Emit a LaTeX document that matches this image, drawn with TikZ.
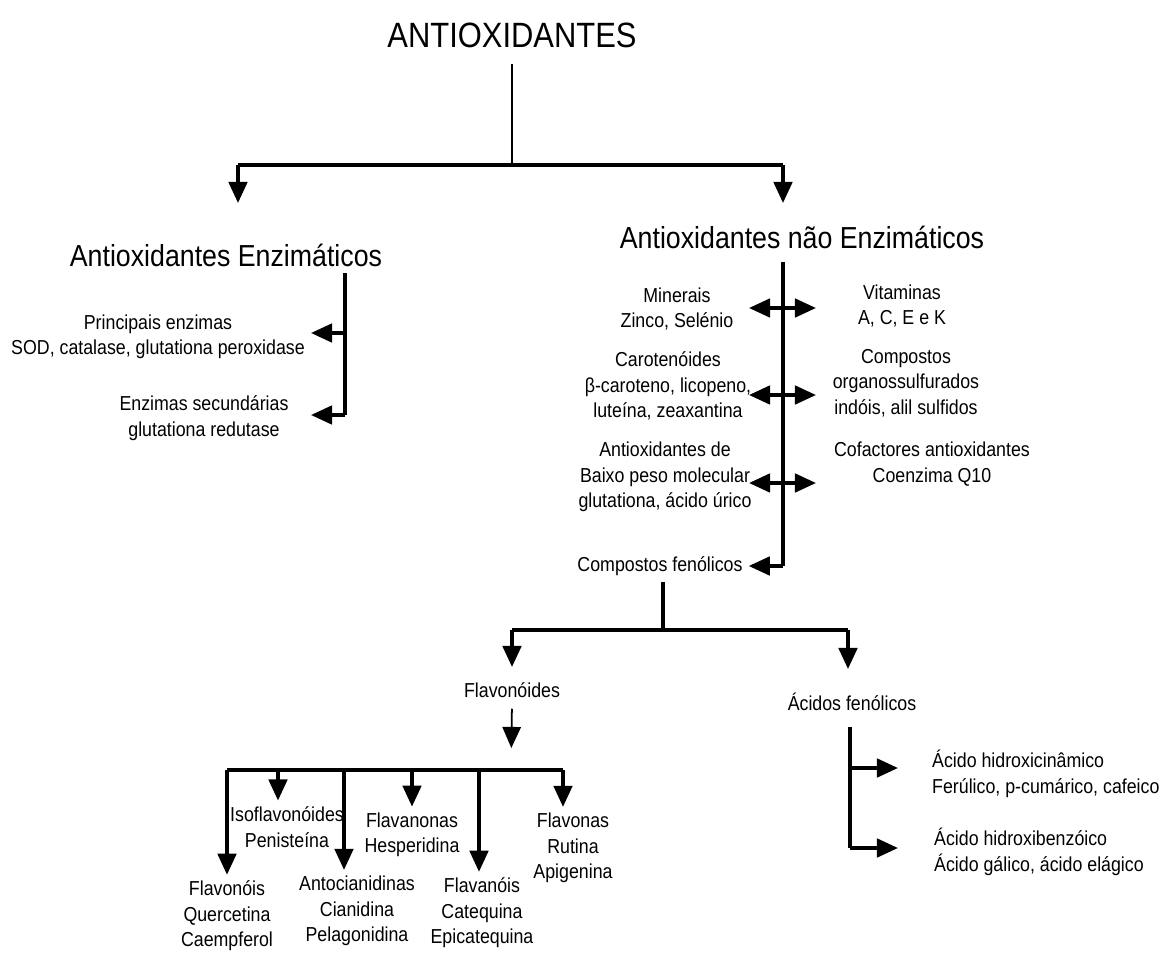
\documentclass[tikz,border=0pt]{standalone}
\usepackage{fontspec}
\setmainfont{Liberation Sans}[FakeStretch=0.88]
\usetikzlibrary{arrows.meta,positioning,calc}

\begin{document}
\begin{tikzpicture}[x=0.02cm, y=-0.02cm,
        lbl/.style={align=center, font=\fontsize{11.5}{14.5}\selectfont},
        head/.style={align=center, font=\fontsize{17.3}{20}\selectfont},
        bar/.style={line width=2pt},
        stem/.style={line width=1.1pt},
        arrow/.style={-{Triangle[length=12pt,width=10.5pt]}, line width=2pt},
        dblarrow/.style={{Triangle[length=12pt,width=10.5pt]}-{Triangle[length=12pt,width=10.5pt]}, line width=2pt},
        thinarrow/.style={arrow, line width=1pt}]

        \useasboundingbox (0,0) rectangle (1164,954);

        % top level
        \node[font=\fontsize{20}{24}\selectfont] (root) at (512,35) {ANTIOXIDANTES};
        \node[head] (enz) at (226,255) {Antioxidantes Enzimáticos};
        \node[head] (nenz) at (802,237) {Antioxidantes não Enzimáticos};

        \coordinate (split) at (512,165);
        \coordinate (splitL) at (238,165);
        \coordinate (splitR) at (783,165);
        \draw[stem, shorten <=2mm] (root.south) -- (split);
        \draw[bar] (splitL) -- (splitR);
        \draw[arrow] (splitL) -- ++(0,38);
        \draw[arrow] (splitR) -- ++(0,38);

        % enzymatic branch
        \node[lbl] (prin) at (158,337) {Principais enzimas\\SOD, catalase, glutationa peroxidase};
        \node[lbl] (sec) at (204,418) {Enzimas secundárias\\glutationa redutase};

        \coordinate (ltop) at (345,273);
        \coordinate (l1) at (345,333);
        \coordinate (l2) at (345,415);
        \draw[bar] (ltop) -- (l2);
        \draw[arrow] (l1) -- (l1 -| prin.east);
        \draw[arrow] (l2) -- (l2 -| prin.east);

        % non enzymatic branch
        \node[lbl] (min) at (677,309) {Minerais\\Zinco, Selénio};
        \node[lbl] (car) at (668,386) {Carotenóides\\β-caroteno, licopeno,\\luteína, zeaxantina};
        \node[lbl] (baixo) at (665,477) {Antioxidantes de\\Baixo peso molecular\\glutationa, ácido úrico};
        \node[lbl] (vit) at (902,306) {Vitaminas\\A, C, E e K};
        \node[lbl] (comp) at (906,383) {Compostos\\organossulfurados\\indóis, alil sulfidos};
        \node[lbl] (cof) at (932,464) {Cofactores antioxidantes\\Coenzima Q10};
        \node[lbl] (fen) at (660,566) {Compostos fenólicos};

        \coordinate (rtop) at (783,262);
        \coordinate (r1) at (783,308);
        \coordinate (r2) at (783,395);
        \coordinate (r3) at (783,483);
        \coordinate (r4) at (783,566);
        \draw[bar] (rtop) -- (r4);
        \foreach \c in {r1,r2,r3}
            \draw[dblarrow] ($(\c)+(-34,0)$) -- ($(\c)+(33,0)$);
        \draw[arrow] (r4) -- (r4 -| fen.east);

        % phenolic compounds
        \node[lbl] (flav) at (512,690) {Flavonóides};
        \node[lbl] (acid) at (852,702) {Ácidos fenólicos};

        \coordinate (fj) at (663,630);
        \coordinate (fl) at (512,630);
        \coordinate (fr) at (848,630);
        \draw[bar] (fen.south -| fj) -- (fj);
        \draw[bar] (fl) -- (fr);
        \draw[arrow] (fl) -- ++(0,37);
        \draw[arrow] (fr) -- ++(0,39);

        % flavonoid classes
        \node[lbl] (iso) at (287,827) {Isoflavonóides\\Penisteína};
        \node[lbl] (flvn) at (412,835) {Flavanonas\\Hesperidina};
        \node[lbl] (flvs) at (573,848) {Flavonas\\Rutina\\Apigenina};
        \node[lbl] (fnol) at (227,916) {Flavonóis\\Quercetina\\Caempferol};
        \node[lbl] (anto) at (357,911) {Antocianidinas\\Cianidina\\Pelagonidina};
        \node[lbl] (fnis) at (482,913) {Flavanóis\\Catequina\\Epicatequina};

        \coordinate (fv) at (511,770);
        \coordinate (fa) at (227,770);
        \coordinate (fb) at (563,770);
        \draw[thinarrow, shorten <=1mm, shorten >=4.4mm] (flav.south) -- (fv);
        \draw[bar] (fa) -- (fb);
        \foreach \n/\x in {fnol/227, iso/278, anto/344, flvn/412, fnis/479, flvs/563} {
            \coordinate (d\n) at (\x,770);
            \draw[arrow] (d\n) -- (d\n |- \n.north);
        }

        % phenolic acids
        \node[lbl, align=left, anchor=west] (hcin) at (926,774) {Ácido hidroxicinâmico\\Ferúlico, p-cumárico, cafeico};
        \node[lbl, align=left, anchor=west] (hben) at (928,852) {Ácido hidroxibenzóico\\Ácido gálico, ácido elágico};

        \coordinate (atop) at (850,727);
        \coordinate (a1) at (850,768);
        \coordinate (a2) at (850,848);
        \draw[bar] (atop) -- (a2);
        \draw[arrow] (a1) -- ++(48,0);
        \draw[arrow] (a2) -- ++(48,0);

    \end{tikzpicture}
\end{document}
